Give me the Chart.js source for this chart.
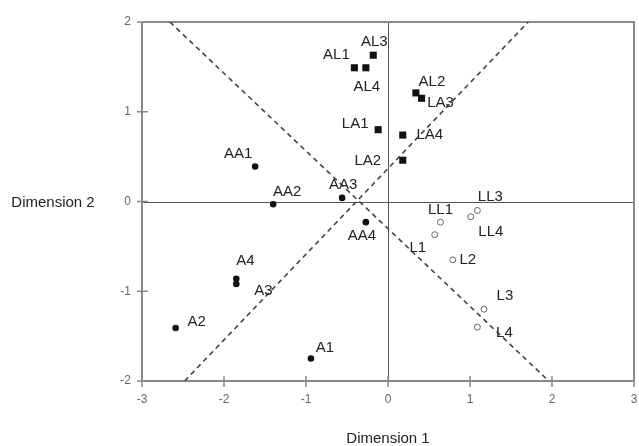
<!DOCTYPE html>
<html>
<head>
<meta charset="utf-8">
<script src="https://cdn.jsdelivr.net/npm/chart.js@4/dist/chart.umd.min.js"></script>
<style>
  html, body { margin: 0; padding: 0; background: #fff; }
  #wrap { width: 639px; height: 446px; }
</style>
</head>
<body>
<div id="wrap"><canvas id="grafico" width="639" height="446"></canvas></div>
<script>
const quadNomes = ['AL1', 'AL3', 'AL4', 'AL2', 'LA3', 'LA1', 'LA4', 'LA2'];
const quadX = [-0.41, -0.18, -0.27, 0.34, 0.41, -0.12, 0.18, 0.18];
const quadY = [1.49, 1.63, 1.49, 1.21, 1.15, 0.80, 0.74, 0.46];

const pontoNomes = ['AA1', 'AA2', 'AA3', 'AA4', 'A4', 'A3', 'A2', 'A1'];
const pontoX = [-1.62, -1.40, -0.56, -0.27, -1.85, -1.85, -2.59, -0.94];
const pontoY = [0.39, -0.03, 0.04, -0.23, -0.86, -0.92, -1.41, -1.75];

const anelNomes = ['LL3', 'LL4', 'LL1', 'L1', 'L2', 'L3', 'L4'];
const anelX = [1.09, 1.01, 0.64, 0.57, 0.79, 1.17, 1.09];
const anelY = [-0.10, -0.17, -0.23, -0.37, -0.65, -1.20, -1.40];

// linhas tracejadas (pontas)
const linha1X = [-2.66, 2.03];
const linha1Y = [2, -2.06];
const linha2X = [-2.48, 1.71];
const linha2Y = [-2, 2];

const ticksX = [-3, -2, -1, 0, 1, 2, 3];
const ticksY = [-2, -1, 0, 1, 2];

const tituloX = 'Dimension 1';
const tituloY = 'Dimension 2';

// deslocamento dos r칩tulos (px) em rela칞칚o ao marcador
const desloc = {
  AL1: [-18, -13], AL3: [1, -13], AL4: [1, 19], AL2: [16, -11], LA3: [19, 5],
  LA1: [-23, -6], LA4: [27, 0], LA2: [-35, 1],
  AA1: [-17, -13], AA2: [14, -12], AA3: [1, -13], AA4: [-4, 14],
  A4: [9, -18], A3: [27, 7], A2: [21, -6], A1: [14, -11],
  LL3: [13, -14], LL1: [0, -12], LL4: [20, 15], L1: [-17, 13],
  L2: [15, 0], L3: [21, -13], L4: [27, 6]
};

const pares = (xs, ys) => xs.map((x, i) => ({ x: x, y: ys[i] }));

// --- plugin: eixos, r칩tulos e t칤tulos ---
const desenhoExtra = {
  id: 'desenhoExtra',
  beforeDatasetsDraw(chart) {
    const { ctx, chartArea: a, scales } = chart;
    const sx = scales.x, sy = scales.y;
    ctx.save();
    // linhas do zero
    ctx.strokeStyle = '#555';
    ctx.lineWidth = 1;
    ctx.beginPath();
    const x0 = Math.round(sx.getPixelForValue(0)) + 0.5;
    const y0 = Math.round(sy.getPixelForValue(0)) + 0.5;
    ctx.moveTo(x0, a.top); ctx.lineTo(x0, a.bottom);
    ctx.moveTo(a.left, y0); ctx.lineTo(a.right, y0);
    ctx.stroke();
    // moldura
    ctx.strokeStyle = '#8a8a8a';
    ctx.lineWidth = 2;
    ctx.beginPath();
    ctx.moveTo(a.left, a.top); ctx.lineTo(a.right, a.top); ctx.lineTo(a.right, a.bottom);
    ctx.moveTo(a.left, a.top); ctx.lineTo(a.left, a.bottom); ctx.lineTo(a.right, a.bottom);
    ctx.stroke();
    // marcas atravessando os eixos
    ctx.lineWidth = 1.5;
    ctx.beginPath();
    ticksX.forEach(v => {
      const px = sx.getPixelForValue(v);
      ctx.moveTo(px, a.bottom - 5); ctx.lineTo(px, a.bottom + 6);
    });
    ticksY.forEach(v => {
      const py = sy.getPixelForValue(v);
      ctx.moveTo(a.left - 5, py); ctx.lineTo(a.left + 6, py);
    });
    ctx.stroke();
    ctx.restore();
  },
  afterDatasetsDraw(chart) {
    const { ctx, chartArea: a } = chart;
    ctx.save();
    ctx.fillStyle = '#222';
    ctx.font = '15px "Liberation Sans", Arial, sans-serif';
    ctx.textAlign = 'center';
    ctx.textBaseline = 'middle';
    [[0, quadNomes], [1, pontoNomes], [2, anelNomes]].forEach(([ds, nomes]) => {
      const meta = chart.getDatasetMeta(ds);
      meta.data.forEach((el, i) => {
        const d = desloc[nomes[i]] || [12, -10];
        ctx.fillText(nomes[i], el.x + d[0], el.y + d[1]);
      });
    });
    ctx.fillText(tituloX, (a.left + a.right) / 2, 439);
    ctx.fillText(tituloY, 53, chart.scales.y.getPixelForValue(0) + 1);
    ctx.restore();
  }
};

new Chart(document.getElementById('grafico'), {
  type: 'scatter',
  data: {
    datasets: [
      {
        data: pares(quadX, quadY),
        pointStyle: 'rect', pointRadius: 5, backgroundColor: '#111', borderColor: '#111', borderWidth: 0
      },
      {
        data: pares(pontoX, pontoY),
        pointStyle: 'circle', pointRadius: 3.3, backgroundColor: '#111', borderColor: '#111', borderWidth: 0
      },
      {
        data: pares(anelX, anelY),
        pointStyle: 'circle', pointRadius: 3, backgroundColor: '#fff', borderColor: '#666', borderWidth: 1
      },
      {
        type: 'line', data: pares(linha1X, linha1Y), showLine: true,
        borderColor: '#444', borderWidth: 1.6, borderDash: [5, 4], pointRadius: 0, fill: false
      },
      {
        type: 'line', data: pares(linha2X, linha2Y), showLine: true,
        borderColor: '#444', borderWidth: 1.6, borderDash: [5, 4], pointRadius: 0, fill: false
      }
    ]
  },
  options: {
    responsive: false,
    animation: false,
    layout: { padding: { left: 0, top: 22, right: 3, bottom: 0 } },
    plugins: { legend: { display: false }, tooltip: { enabled: false } },
    scales: {
      x: {
        type: 'linear', min: -3, max: 3,
        afterFit: s => { s.height = 65; s.paddingLeft = 0; s.paddingRight = 0; },
        afterBuildTicks: s => { s.ticks = ticksX.map(v => ({ value: v })); },
        grid: { display: false, drawTicks: false },
        border: { display: false },
        ticks: { padding: 11, color: '#666', font: { family: '"Liberation Sans", Arial', size: 12 } }
      },
      y: {
        type: 'linear', min: -2, max: 2,
        afterFit: s => { s.width = 142; s.paddingTop = 0; s.paddingBottom = 0; },
        afterBuildTicks: s => { s.ticks = ticksY.map(v => ({ value: v })); },
        grid: { display: false, drawTicks: false },
        border: { display: false },
        ticks: { padding: 11, color: '#666', font: { family: '"Liberation Sans", Arial', size: 12 } }
      }
    }
  },
  plugins: [desenhoExtra]
});
</script>
</body>
</html>
